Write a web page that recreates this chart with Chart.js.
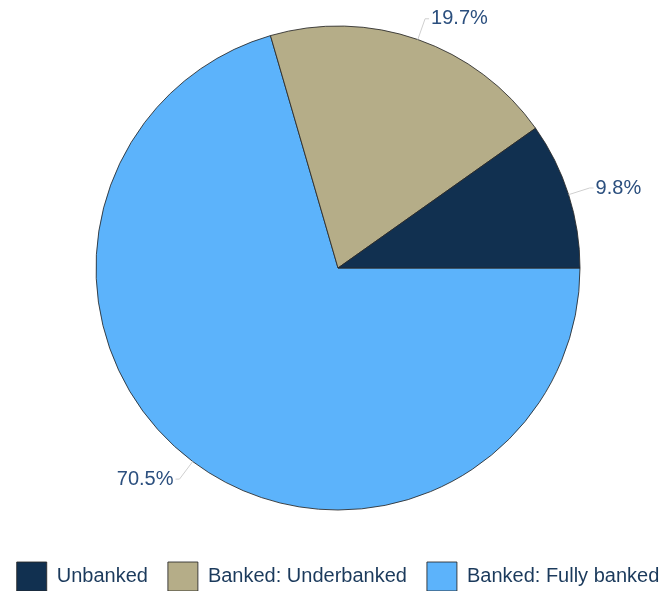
<!DOCTYPE html>
<html>
<head>
<meta charset="utf-8">
<script src="https://cdn.jsdelivr.net/npm/chart.js@4/dist/chart.umd.min.js"></script>
<style>
  html, body { margin: 0; padding: 0; background: #fff; overflow: hidden; }
  #wrap { width: 690px; height: 597px; position: relative; left: -8px; top: -6px; }
</style>
</head>
<body>
<div id="wrap"><canvas id="myChart"></canvas></div>
<script>
'use strict';

// Data, in legend order
var categories = ['Unbanked', 'Banked: Underbanked', 'Banked: Fully banked'];
var shares = [9.8, 19.7, 70.5];
var sliceLabels = ['9.8%', '19.7%', '70.5%'];
var colors = ['#113050', '#b5ad88', '#5cb3fb'];

// The pie runs counter-clockwise from 3 o'clock, so feed it reversed
var rev = function (arr) { return arr.slice().reverse(); };

// Draws the outside labels with short leader lines
var outLabels = {
  id: 'outLabels',
  afterDatasetsDraw: function (chart) {
    var ctx = chart.ctx;
    var meta = chart.getDatasetMeta(0);
    var texts = rev(sliceLabels);
    ctx.save();
    ctx.font = '20px "Liberation Sans", Arial, sans-serif';
    ctx.textBaseline = 'middle';
    meta.data.forEach(function (arc, i) {
      var p = arc.getProps(['x', 'y', 'startAngle', 'endAngle', 'outerRadius'], true);
      var mid = (p.startAngle + p.endAngle) / 2;
      var cos = Math.cos(mid), sin = Math.sin(mid);
      var x0 = p.x + cos * p.outerRadius, y0 = p.y + sin * p.outerRadius;
      var x1 = p.x + cos * (p.outerRadius + 22), y1 = p.y + sin * (p.outerRadius + 22);
      var right = cos >= 0;
      var x2 = x1 + (right ? 4 : -4);
      ctx.strokeStyle = '#cfcfcf';
      ctx.lineWidth = 1;
      ctx.beginPath();
      ctx.moveTo(x0, y0);
      ctx.lineTo(x1, y1);
      ctx.lineTo(x2, y1);
      ctx.stroke();
      ctx.fillStyle = '#2b4f7e';
      ctx.textAlign = right ? 'left' : 'right';
      ctx.fillText(texts[i], x2 + (right ? 2 : -2), y1);
    });
    ctx.restore();
  }
};

var ctx = document.getElementById('myChart');
var myChart = new Chart(ctx, {
  type: 'pie',
  data: {
    labels: rev(categories),
    datasets: [{
      data: rev(shares),
      backgroundColor: rev(colors),
      borderColor: 'rgba(40,40,40,0.85)',
      borderWidth: 1
    }]
  },
  options: {
    responsive: true,
    maintainAspectRatio: false,
    animation: false,
    rotation: 90,
    radius: 242,
    layout: { padding: { top: 0, bottom: -10, left: 2, right: 0 } },
    plugins: {
      tooltip: { enabled: false },
      legend: {
        position: 'bottom',
        labels: {
          boxWidth: 30,
          boxHeight: 29,
          padding: 20,
          color: '#1b3a5c',
          font: { family: '"Liberation Sans", Arial, sans-serif', size: 20 },
          sort: function (a, b) { return b.index - a.index; }
        }
      }
    }
  },
  plugins: [outLabels]
});
</script>
</body>
</html>
